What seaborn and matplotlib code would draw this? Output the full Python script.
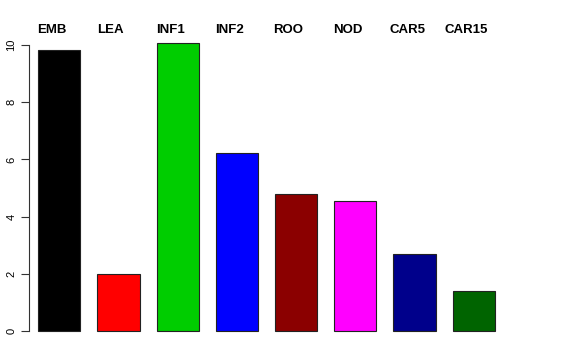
import numpy as np
import pandas as pd
import matplotlib
matplotlib.use('Agg')
import matplotlib.pyplot as plt
import seaborn as sns

categories = ['EMB', 'LEA', 'INF1', 'INF2', 'ROO', 'NOD', 'CAR5', 'CAR15']
values = [9.83, 1.99, 10.07, 6.22, 4.79, 4.55, 2.69, 1.40]
colors = ['#000000', '#FF0000', '#00CD00', '#0000FF', '#8B0000', '#FF00FF', '#00008B', '#006400']
yticks = [0, 2, 4, 6, 8, 10]

sns.set_style('white')
plt.rcParams['font.family'] = ['Liberation Sans', 'DejaVu Sans']
plt.rcParams['text.color'] = 'black'
plt.rcParams['ytick.color'] = 'black'

df = pd.DataFrame({'cat': categories, 'val': values})

fig = plt.figure(figsize=(5.76, 3.6), dpi=100)
ax = fig.add_axes([29 / 576, 0.0489, 475 / 576, 0.863])

sns.barplot(data=df, x='cat', y='val', hue='cat', palette=colors, legend=False,
            width=0.714, edgecolor='#222222', linewidth=0.8, saturation=1, ax=ax)

ax.set_xlim(-0.51, len(categories) - 0.49)
ax.set_ylim(-0.4, 10.47)
ax.set_xlabel('')
ax.set_ylabel('')
ax.set_xticks([])
ax.set_yticks(yticks)
ax.set_yticklabels([str(t) for t in yticks], rotation=90, va='center', fontsize=8, color='black')
ax.tick_params(axis='y', length=6, width=0.8, color='#333333', pad=3, left=True)

for s in ['top', 'right', 'bottom']:
    ax.spines[s].set_visible(False)
ax.spines['left'].set_bounds(0, 10)
ax.spines['left'].set_color('#333333')
ax.spines['left'].set_linewidth(0.8)

# names across the top, slightly left of each bar centre
for i, name in enumerate(categories):
    ax.text(i - 0.127, 10.54, name, ha='center', va='center', color='black',
            fontsize=9.5, fontweight='bold', clip_on=False)

fig.savefig('out.png', dpi=100)
